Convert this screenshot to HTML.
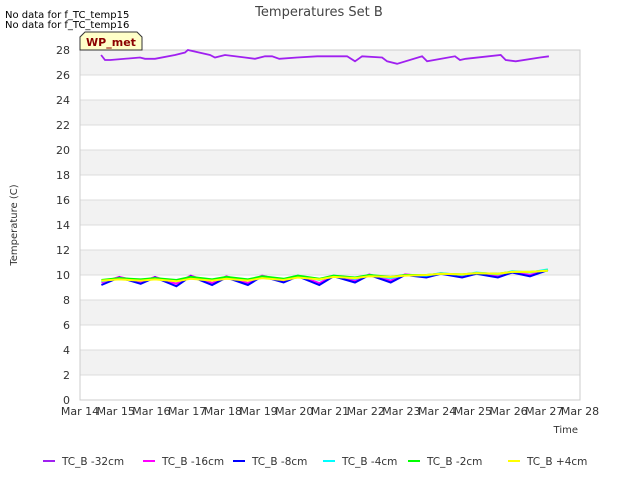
<!DOCTYPE html>
<html><head><meta charset="utf-8"><style>
body{margin:0;background:#fff;font-family:"Liberation Sans","DejaVu Sans",sans-serif;}
svg text{font-family:"DejaVu Sans","Liberation Sans",sans-serif;}
</style></head><body>
<svg id="c" width="640" height="480" xmlns="http://www.w3.org/2000/svg"></svg>
<script>
const xTicks=["Mar 14","Mar 15","Mar 16","Mar 17","Mar 18","Mar 19","Mar 20","Mar 21","Mar 22","Mar 23","Mar 24","Mar 25","Mar 26","Mar 27","Mar 28"];
const yTicks=[0,2,4,6,8,10,12,14,16,18,20,22,24,26,28];
const seriesNames=["TC_B -32cm","TC_B -16cm","TC_B -8cm","TC_B -4cm","TC_B -2cm","TC_B +4cm"];
const seriesColors=["#a020f0","#ff00ff","#0000ff","#00ffff","#00ff00","#ffff00"];
const tTop=[0.59,0.7,0.85,1.68,1.82,2.1,2.66,2.94,3.02,3.64,3.78,4.06,4.62,4.9,5.18,5.38,5.58,6.08,6.64,7.48,7.7,7.9,8.46,8.6,8.88,9.58,9.72,10.5,10.64,10.8,11.78,11.92,12.2,12.88,13.13];
const vTop=[27.6,27.2,27.2,27.4,27.3,27.3,27.6,27.8,28.0,27.6,27.4,27.6,27.4,27.3,27.5,27.5,27.3,27.4,27.5,27.5,27.1,27.5,27.4,27.1,26.9,27.5,27.1,27.5,27.2,27.3,27.6,27.2,27.1,27.4,27.5];
const tLow=[0.6,1.1,1.7,2.1,2.7,3.1,3.7,4.1,4.7,5.1,5.7,6.1,6.7,7.1,7.7,8.1,8.7,9.1,9.7,10.1,10.7,11.1,11.7,12.1,12.6,13.1];
const vM16=[9.4,9.85,9.45,9.85,9.3,9.95,9.35,9.9,9.35,9.95,9.5,9.95,9.35,9.95,9.55,10.05,9.55,10.05,9.9,10.15,9.9,10.15,9.9,10.25,10.0,10.4];
const vM8=[9.2,9.8,9.3,9.8,9.1,9.9,9.2,9.8,9.2,9.9,9.4,9.9,9.2,9.9,9.4,10.0,9.4,10.0,9.8,10.1,9.8,10.1,9.8,10.2,9.9,10.4];
const vM4=[9.5,9.75,9.6,9.75,9.5,9.85,9.55,9.85,9.55,9.9,9.65,9.95,9.6,9.95,9.7,10.0,9.75,10.0,9.95,10.15,10.0,10.2,10.05,10.3,10.2,10.45];
const vM2=[9.6,9.75,9.65,9.75,9.6,9.85,9.65,9.85,9.65,9.9,9.7,9.95,9.7,9.95,9.8,10.0,9.85,10.0,10.0,10.1,10.05,10.15,10.1,10.25,10.25,10.35];
const vP4=[9.55,9.65,9.55,9.65,9.5,9.7,9.55,9.7,9.55,9.75,9.6,9.8,9.65,9.85,9.75,9.9,9.85,9.95,10.0,10.1,10.05,10.15,10.1,10.25,10.25,10.35];
const L=80,R=580,T=50,B=400;
const xs=d=>L+d*(R-L)/14, ys=v=>B-v*(B-T)/28;
const NS="http://www.w3.org/2000/svg", svg=document.getElementById('c');
function el(tag,a,txt){const e=document.createElementNS(NS,tag);for(const k in a)e.setAttribute(k,a[k]);if(txt!=null)e.textContent=txt;svg.appendChild(e);return e;}
for(let i=0;i<14;i++){
 const band=el('rect',{x:L,y:ys(2*i+2),width:R-L,height:ys(2*i)-ys(2*i+2),fill:i%2?'#f2f2f2':'#ffffff'});
 
 
}
yTicks.forEach(v=>{
 const g=el('line',{x1:L,x2:R,y1:ys(v),y2:ys(v),stroke:'#dcdcdc','stroke-width':1});
 
 
 const t=el('text',{x:L-10,y:ys(v)+4,'text-anchor':'end','font-size':11,fill:'#333'},v);
 
 
});
const fr=el('rect',{x:L,y:T,width:R-L,height:B-T,fill:'none',stroke:'#cccccc'});


xTicks.forEach((s,i)=>{
 const t=el('text',{x:xs(i),y:B+15,'text-anchor':'middle','font-size':11,fill:'#333'},s);
 
 
});
const low=[vM16,vM8,vM4,vM2,vP4];
[0,1,2,3,4,5].forEach(i=>{
 const t=i===0?tTop:tLow, v=i===0?vTop:low[i-1];
 const p=el('polyline',{points:t.map((d,k)=>xs(d).toFixed(1)+','+ys(v[k]).toFixed(1)).join(' '),fill:'none',stroke:seriesColors[i],'stroke-width':i===0?1.8:2});
 
 
});
const ti=el('text',{x:319,y:16,'text-anchor':'middle','font-size':13,fill:'#444'},'Temperatures Set B');


const yt=el('text',{x:17,y:225,'text-anchor':'middle','font-size':10,fill:'#333',transform:'rotate(-90 17 225)'},'Temperature (C)');


const xt=el('text',{x:578,y:433,'text-anchor':'end','font-size':10,fill:'#333'},'Time');


const n1=el('text',{x:5,y:18,'font-size':10,fill:'#000'},'No data for f_TC_temp15');


const n2=el('text',{x:5,y:28,'font-size':10,fill:'#000'},'No data for f_TC_temp16');


const wb=el('path',{d:'M80,50 L80,37 L85,32 L137,32 L142,37 L142,50 Z',fill:'#ffffc8',stroke:'#333','stroke-width':1});


const wt=el('text',{x:111,y:46,'text-anchor':'middle','font-size':11,'font-weight':'bold',fill:'#8b0000'},'WP_met');


const lx=[43,143,233,323,408,508];
seriesNames.forEach((s,i)=>{
 const l=el('line',{x1:lx[i],x2:lx[i]+12,y1:461,y2:461,stroke:seriesColors[i],'stroke-width':2});
 
 
 const t=el('text',{x:lx[i]+19,y:465,'font-size':10.5,fill:'#333'},s);
 
 
});
</script>
</body></html>
